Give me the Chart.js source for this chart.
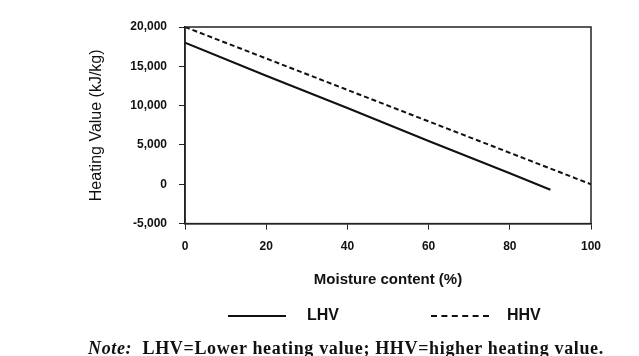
<!DOCTYPE html>
<html>
<head>
<meta charset="utf-8">
<script src="https://cdn.jsdelivr.net/npm/chart.js@4.4.0/dist/chart.umd.min.js"></script>
<style>
  body { margin: 0; background: #fff; }
  #wrap { position: relative; width: 639px; height: 356px; overflow: hidden; }
  .leg { position: absolute; font: bold 16px "Liberation Sans", Arial, sans-serif; color: #111; }
  .swatch { position: absolute; width: 58px; height: 0; }
  #note { position: absolute; left: 88px; top: 338px; font: bold 18px "Liberation Serif", serif; letter-spacing: 0.65px; color: #111; white-space: nowrap; }
</style>
</head>
<body>
<div id="wrap">
  <canvas id="heating-chart" width="639" height="356"></canvas>
  <div class="swatch" style="left:228px;top:315px;border-top:2px solid #111"></div>
  <div class="leg" style="left:307px;top:306px">LHV</div>
  <div class="swatch" style="left:431px;top:315px;border-top:2px dashed #111"></div>
  <div class="leg" style="left:507px;top:306px">HHV</div>
  <div id="note"><i>Note:</i>&nbsp; LHV=Lower heating value; HHV=higher heating value.</div>
</div>
<script>
// values
const lhvMoisture = [0, 20, 40, 60, 80, 90];
const lhvValues = [18000, 13800, 9700, 5500, 1400, -700];
const hhvMoisture = [0, 20, 40, 60, 80, 100];
const hhvValues = [20000, 16000, 12000, 8000, 4000, 0];

const toPoints = (xs, ys) => xs.map((x, i) => ({ x: x, y: ys[i] }));

// box around the plot area
const frame = {
  id: 'frame',
  afterDraw(chart) {
    const { ctx, chartArea: a } = chart;
    ctx.save();
    ctx.strokeStyle = '#222';
    ctx.lineWidth = 1.5;
    ctx.strokeRect(a.left, a.top, a.right - a.left, a.bottom - a.top);
    ctx.restore();
  }
};

const tickFont = { family: '"Liberation Sans", Arial, sans-serif', size: 12, weight: 'bold' };

new Chart(document.getElementById('heating-chart'), {
  type: 'line',
  data: {
    datasets: [
      {
        label: 'LHV',
        data: toPoints(lhvMoisture, lhvValues),
        borderColor: '#111',
        borderWidth: 2,
        pointRadius: 0,
        fill: false
      },
      {
        label: 'HHV',
        data: toPoints(hhvMoisture, hhvValues),
        borderColor: '#111',
        borderWidth: 2,
        borderDash: [5, 3],
        pointRadius: 0,
        fill: false
      }
    ]
  },
  options: {
    responsive: false,
    animation: false,
    layout: { padding: { left: 85, right: 48, top: 27, bottom: 67 } },
    plugins: { legend: { display: false }, tooltip: { enabled: false } },
    scales: {
      x: {
        type: 'linear',
        min: 0,
        max: 100,
        ticks: { stepSize: 20, color: '#111', font: tickFont, padding: 10 },
        grid: { drawOnChartArea: false, tickLength: 6, color: '#222' },
        border: { color: '#222', width: 1.5 },
        title: {
          display: true,
          text: 'Moisture content (%)',
          color: '#111',
          font: { family: '"Liberation Sans", Arial, sans-serif', size: 15, weight: 'bold' },
          padding: { top: 7, bottom: 0 }
        }
      },
      y: {
        min: -5000,
        max: 20000,
        ticks: { stepSize: 5000, color: '#111', font: tickFont, padding: 12 },
        grid: { drawOnChartArea: false, tickLength: 6, color: '#222' },
        border: { color: '#222', width: 1.5 },
        title: {
          display: true,
          text: 'Heating Value (kJ/kg)',
          color: '#111',
          font: { family: '"Liberation Sans", Arial, sans-serif', size: 16 },
          padding: { top: 2, bottom: 0 }
        },
        afterFit(scale) { scale.width = 100; }
      }
    }
  },
  plugins: [frame]
});
</script>
</body>
</html>
